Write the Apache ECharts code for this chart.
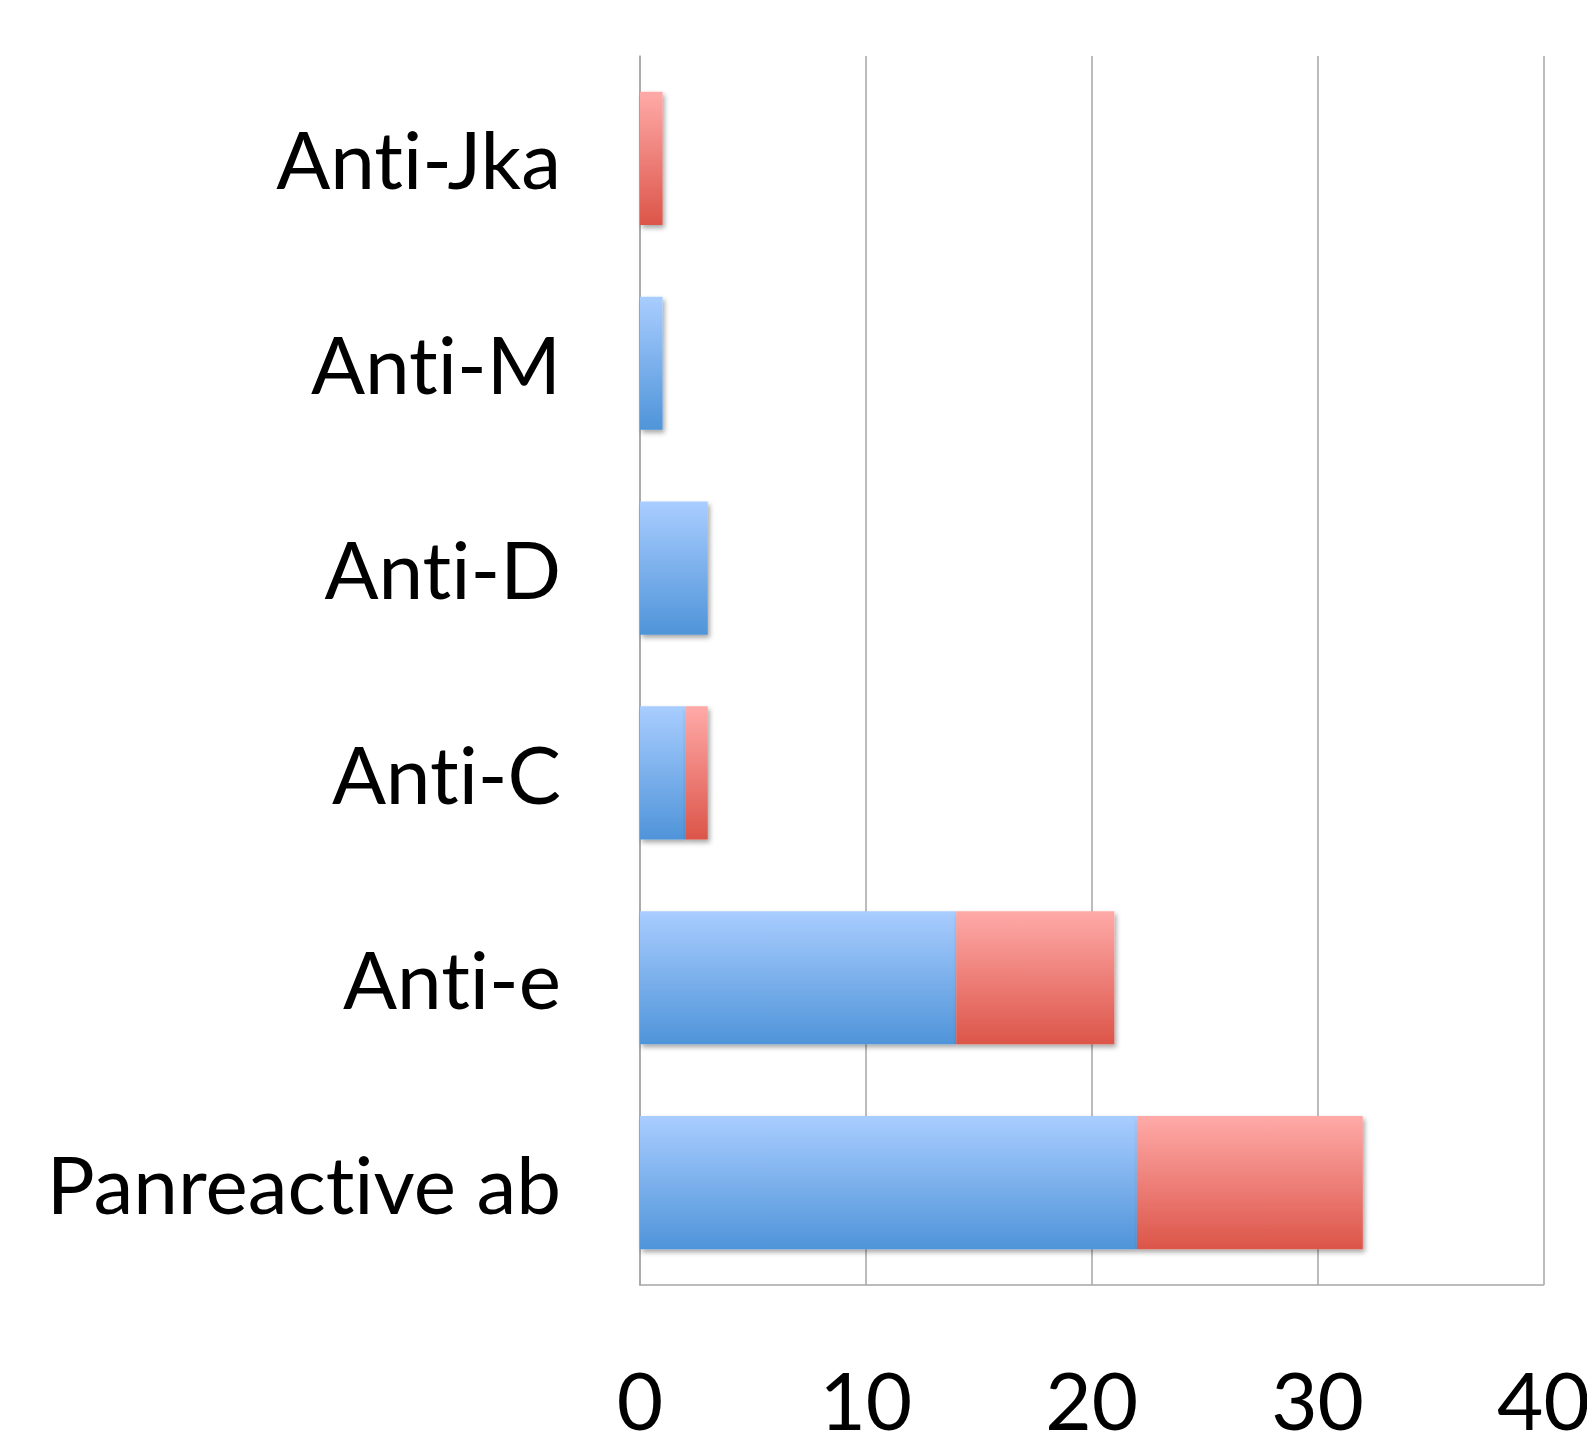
<!DOCTYPE html>
<html>
<head>
<meta charset="utf-8">
<script src="https://cdn.jsdelivr.net/npm/echarts@6/dist/echarts.min.js"></script>
<style>
html,body{margin:0;padding:0;background:#fff;overflow:hidden;}
#chart{width:1587px;height:1437px;}
#chart text{font-variant-ligatures:none;font-feature-settings:"liga" 0, "clig" 0;}
</style>
</head>
<body>
<div id="chart"></div>
<script>
var categories = ['Panreactive ab', 'Anti-e', 'Anti-C', 'Anti-D', 'Anti-M', 'Anti-Jka'];
var blueValues = [22, 14, 2, 3, 1, null];
var redValues = [10, 7, 1, null, null, 1];
var xTicks = { min: 0, max: 40, interval: 10 };

var FONT = 'Lato';
var gridColor = '#a6a6a6';

function grad(top, bottom) {
  return new echarts.graphic.LinearGradient(0, 0, 0, 1, [
    { offset: 0, color: top },
    { offset: 1, color: bottom }
  ]);
}

var chart = echarts.init(document.getElementById('chart'), null, { renderer: 'svg' });
chart.setOption({
  animation: false,
  backgroundColor: '#ffffff',
  grid: { left: 640, right: 43.5, top: 56, bottom: 152, containLabel: false, outerBoundsMode: 'none' },
  xAxis: {
    type: 'value',
    min: xTicks.min, max: xTicks.max, interval: xTicks.interval,
    axisLine: { show: true, lineStyle: { color: gridColor, width: 1.5 } },
    axisTick: { show: false },
    splitLine: { show: true, lineStyle: { color: gridColor, width: 1.5 } },
    axisLabel: { color: '#000', fontFamily: FONT, fontSize: 80, lineHeight: 70, margin: 79 }
  },
  yAxis: {
    type: 'category',
    data: categories,
    axisLine: { show: true, lineStyle: { color: gridColor, width: 1.5 } },
    axisTick: { show: false },
    axisLabel: { color: '#000', fontFamily: FONT, fontSize: 80, margin: 79, padding: [24, 0, 0, 0] }
  },
  series: [
    {
      name: 'Series 1', type: 'bar', stack: 'total', data: blueValues,
      barCategoryGap: '35%',
      itemStyle: {
        color: grad('#a9cdff', '#4f94d9'),
        shadowColor: 'rgba(0,0,0,0.35)', shadowBlur: 5, shadowOffsetX: 2, shadowOffsetY: 3
      }
    },
    {
      name: 'Series 2', type: 'bar', stack: 'total', data: redValues,
      barCategoryGap: '35%',
      itemStyle: {
        color: grad('#ffaaa8', '#dc5549'),
        shadowColor: 'rgba(0,0,0,0.35)', shadowBlur: 5, shadowOffsetX: 2, shadowOffsetY: 3
      }
    }
  ]
});
</script>
</body>
</html>
